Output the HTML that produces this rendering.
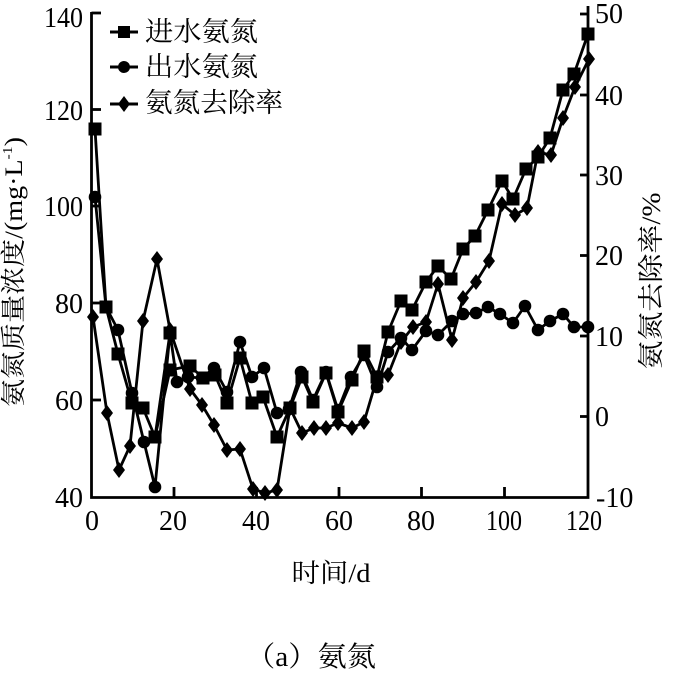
<!DOCTYPE html>
<html>
<head>
<meta charset="utf-8">
<style>
html,body{margin:0;padding:0;background:#fff;}
svg{display:block;}
text{fill:#000;}
.t{font-family:"Liberation Serif","Noto Serif CJK SC",serif;font-size:28px;}
.c{font-family:"Liberation Serif","Noto Serif CJK SC",serif;}
</style>
</head>
<body>
<svg width="679" height="675" viewBox="0 0 679 675" xmlns="http://www.w3.org/2000/svg">
<rect width="679" height="675" fill="#fff"/>
<defs>
  <rect id="sq" x="-6.5" y="-6.5" width="13" height="13" fill="#000"/>
  <circle id="ci" r="6.3" fill="#000"/>
  <polygon id="di" points="0,-8 6,0 0,8 -6,0" fill="#000"/>
</defs>

<!-- axes -->
<g stroke="#000" stroke-width="2.8" fill="none">
  <polyline points="91.5,12 91.5,497.5 588,497.5 588,6"/>
  <line x1="91.5" y1="13" x2="101" y2="13"/>
  <line x1="91.5" y1="109.5" x2="101" y2="109.5"/>
  <line x1="91.5" y1="206" x2="101" y2="206"/>
  <line x1="91.5" y1="303" x2="101" y2="303"/>
  <line x1="91.5" y1="400" x2="101" y2="400"/>
  <line x1="580" y1="14" x2="588" y2="14"/>
  <line x1="580" y1="95" x2="588" y2="95"/>
  <line x1="580" y1="175" x2="588" y2="175"/>
  <line x1="580" y1="255.5" x2="588" y2="255.5"/>
  <line x1="580" y1="336" x2="588" y2="336"/>
  <line x1="580" y1="416.5" x2="588" y2="416.5"/>
  <line x1="174" y1="497" x2="174" y2="487"/>
  <line x1="256.5" y1="497" x2="256.5" y2="487"/>
  <line x1="339" y1="497" x2="339" y2="487"/>
  <line x1="421.5" y1="497" x2="421.5" y2="487"/>
  <line x1="504.5" y1="497" x2="504.5" y2="487"/>
</g>

<g class="t" text-anchor="end">
  <text x="83" y="27" textLength="39" lengthAdjust="spacingAndGlyphs">140</text>
  <text x="83" y="120" textLength="39" lengthAdjust="spacingAndGlyphs">120</text>
  <text x="83" y="216" textLength="39" lengthAdjust="spacingAndGlyphs">100</text>
  <text x="83" y="313">80</text>
  <text x="83" y="410">60</text>
  <text x="83" y="507">40</text>
</g>
<g class="t" text-anchor="start">
  <text x="595" y="23">50</text>
  <text x="595" y="105">40</text>
  <text x="595" y="185">30</text>
  <text x="595" y="265">20</text>
  <text x="595" y="346">10</text>
  <text x="595" y="426">0</text>
  <text x="596" y="507">-10</text>
</g>
<g class="t" text-anchor="middle">
  <text x="92" y="530">0</text>
  <text x="173" y="530">20</text>
  <text x="256" y="530">40</text>
  <text x="339" y="530">60</text>
  <text x="421" y="530">80</text>
  <text x="504" y="530" textLength="36" lengthAdjust="spacingAndGlyphs">100</text>
  <text x="584" y="530" textLength="36" lengthAdjust="spacingAndGlyphs">120</text>
</g>

<text class="c" x="331" y="582" font-size="26" text-anchor="middle" textLength="79" lengthAdjust="spacingAndGlyphs">时间/d</text>
<text class="c" font-size="25" text-anchor="middle" transform="translate(22,272) rotate(-90)" textLength="270" lengthAdjust="spacingAndGlyphs">氨氮质量浓度/(mg·L<tspan font-size="14" dy="-10">-1</tspan><tspan dy="10">)</tspan></text>
<text class="c" font-size="26" text-anchor="middle" transform="translate(660,281) rotate(-90)" textLength="177" lengthAdjust="spacingAndGlyphs">氨氮去除率/%</text>

<text class="c" x="311" y="666" font-size="28" text-anchor="middle" textLength="130" lengthAdjust="spacingAndGlyphs">（a）氨氮</text>

<g stroke="#000" stroke-width="3">
  <line x1="110" y1="32" x2="138" y2="32"/>
  <line x1="110" y1="67" x2="138" y2="67"/>
  <line x1="110" y1="104" x2="138" y2="104"/>
</g>
<rect x="118" y="26" width="12" height="12" fill="#000"/>
<circle cx="124" cy="67" r="6" fill="#000"/>
<polygon points="124,96 130,104 124,112 118,104" fill="#000"/>
<g class="c" font-size="27">
  <text x="145" y="41" textLength="113" lengthAdjust="spacingAndGlyphs">进水氨氮</text>
  <text x="145" y="76" textLength="113" lengthAdjust="spacingAndGlyphs">出水氨氮</text>
  <text x="145" y="112" textLength="138" lengthAdjust="spacingAndGlyphs">氨氮去除率</text>
</g>

<g fill="none" stroke="#000" stroke-width="2.8" stroke-linejoin="round">
  <polyline points="95,129 106,307 118,354 132,403 143,408 155,437 170,370 190,366 203,378 215,375 227,403 240,358 252,403 263,397 277,437 290,408 302,377 313,402 326,373 338,412 352,380 364,351 377,377 388,332 401,301 412,310 426,282 438,266 451,279 463,249 475,236 488,210 502,181 513,199 526,169 538,157 550,138 563,90 574,74 588,34"/>
  <polyline points="155,437 170,333"/>
  <polyline points="95,197 106,307 118,330 132,393 144,442 155,487 170,333 177,382 188,377 202,378 214,368 227,392 240,342 252,377 264,368 277,413 289,409 301,372 313,400 326,372 338,410 351,377 364,355 377,387 388,352 401,338 412,350 426,331 438,335 452,321 463,314 476,313 488,307 500,314 513,323 525,306 538,330 550,321 563,314 574,327 588,327"/>
  <polyline points="93,317 107,413 119,470 130,446 143,321 157,259 170,330 190,389 202,405 214,425 227,450 240,449 253,489 265,493 277,490 290,408 302,433 314,428 326,428 338,423 352,428 364,422 377,378 388,375 401,342 413,327 426,322 438,284 452,340 463,298 476,282 489,261 502,204 515,215 527,208 538,152 551,155 563,118 575,87 589,59"/>
</g>

<g>
<use href="#sq" x="95" y="129"/><use href="#sq" x="106" y="307"/><use href="#sq" x="118" y="354"/><use href="#sq" x="132" y="403"/><use href="#sq" x="143" y="408"/><use href="#sq" x="155" y="437"/><use href="#sq" x="170" y="333"/><use href="#sq" x="170" y="370"/><use href="#sq" x="190" y="366"/><use href="#sq" x="203" y="378"/><use href="#sq" x="215" y="375"/><use href="#sq" x="227" y="403"/><use href="#sq" x="240" y="358"/><use href="#sq" x="252" y="403"/><use href="#sq" x="263" y="397"/><use href="#sq" x="277" y="437"/><use href="#sq" x="290" y="408"/><use href="#sq" x="302" y="377"/><use href="#sq" x="313" y="402"/><use href="#sq" x="326" y="373"/><use href="#sq" x="338" y="412"/><use href="#sq" x="352" y="380"/><use href="#sq" x="364" y="351"/><use href="#sq" x="377" y="377"/><use href="#sq" x="388" y="332"/><use href="#sq" x="401" y="301"/><use href="#sq" x="412" y="310"/><use href="#sq" x="426" y="282"/><use href="#sq" x="438" y="266"/><use href="#sq" x="451" y="279"/><use href="#sq" x="463" y="249"/><use href="#sq" x="475" y="236"/><use href="#sq" x="488" y="210"/><use href="#sq" x="502" y="181"/><use href="#sq" x="513" y="199"/><use href="#sq" x="526" y="169"/><use href="#sq" x="538" y="157"/><use href="#sq" x="550" y="138"/><use href="#sq" x="563" y="90"/><use href="#sq" x="574" y="74"/><use href="#sq" x="588" y="34"/>
</g>
<g>
<use href="#ci" x="95" y="197"/><use href="#ci" x="106" y="307"/><use href="#ci" x="118" y="330"/><use href="#ci" x="132" y="393"/><use href="#ci" x="144" y="442"/><use href="#ci" x="155" y="487"/><use href="#ci" x="170" y="333"/><use href="#ci" x="177" y="382"/><use href="#ci" x="188" y="377"/><use href="#ci" x="202" y="378"/><use href="#ci" x="214" y="368"/><use href="#ci" x="227" y="392"/><use href="#ci" x="240" y="342"/><use href="#ci" x="252" y="377"/><use href="#ci" x="264" y="368"/><use href="#ci" x="277" y="413"/><use href="#ci" x="289" y="409"/><use href="#ci" x="301" y="372"/><use href="#ci" x="313" y="400"/><use href="#ci" x="326" y="372"/><use href="#ci" x="338" y="410"/><use href="#ci" x="351" y="377"/><use href="#ci" x="364" y="355"/><use href="#ci" x="377" y="387"/><use href="#ci" x="388" y="352"/><use href="#ci" x="401" y="338"/><use href="#ci" x="412" y="350"/><use href="#ci" x="426" y="331"/><use href="#ci" x="438" y="335"/><use href="#ci" x="452" y="321"/><use href="#ci" x="463" y="314"/><use href="#ci" x="476" y="313"/><use href="#ci" x="488" y="307"/><use href="#ci" x="500" y="314"/><use href="#ci" x="513" y="323"/><use href="#ci" x="525" y="306"/><use href="#ci" x="538" y="330"/><use href="#ci" x="550" y="321"/><use href="#ci" x="563" y="314"/><use href="#ci" x="574" y="327"/><use href="#ci" x="588" y="327"/>
</g>
<g>
<use href="#di" x="93" y="317"/><use href="#di" x="107" y="413"/><use href="#di" x="119" y="470"/><use href="#di" x="130" y="446"/><use href="#di" x="143" y="321"/><use href="#di" x="157" y="259"/><use href="#di" x="170" y="330"/><use href="#di" x="190" y="389"/><use href="#di" x="202" y="405"/><use href="#di" x="214" y="425"/><use href="#di" x="227" y="450"/><use href="#di" x="240" y="449"/><use href="#di" x="253" y="489"/><use href="#di" x="265" y="493"/><use href="#di" x="277" y="490"/><use href="#di" x="290" y="408"/><use href="#di" x="302" y="433"/><use href="#di" x="314" y="428"/><use href="#di" x="326" y="428"/><use href="#di" x="338" y="423"/><use href="#di" x="352" y="428"/><use href="#di" x="364" y="422"/><use href="#di" x="377" y="378"/><use href="#di" x="388" y="375"/><use href="#di" x="401" y="342"/><use href="#di" x="413" y="327"/><use href="#di" x="426" y="322"/><use href="#di" x="438" y="284"/><use href="#di" x="452" y="340"/><use href="#di" x="463" y="298"/><use href="#di" x="476" y="282"/><use href="#di" x="489" y="261"/><use href="#di" x="502" y="204"/><use href="#di" x="515" y="215"/><use href="#di" x="527" y="208"/><use href="#di" x="538" y="152"/><use href="#di" x="551" y="155"/><use href="#di" x="563" y="118"/><use href="#di" x="575" y="87"/><use href="#di" x="589" y="59"/>
</g>
</svg>
</body>
</html>
